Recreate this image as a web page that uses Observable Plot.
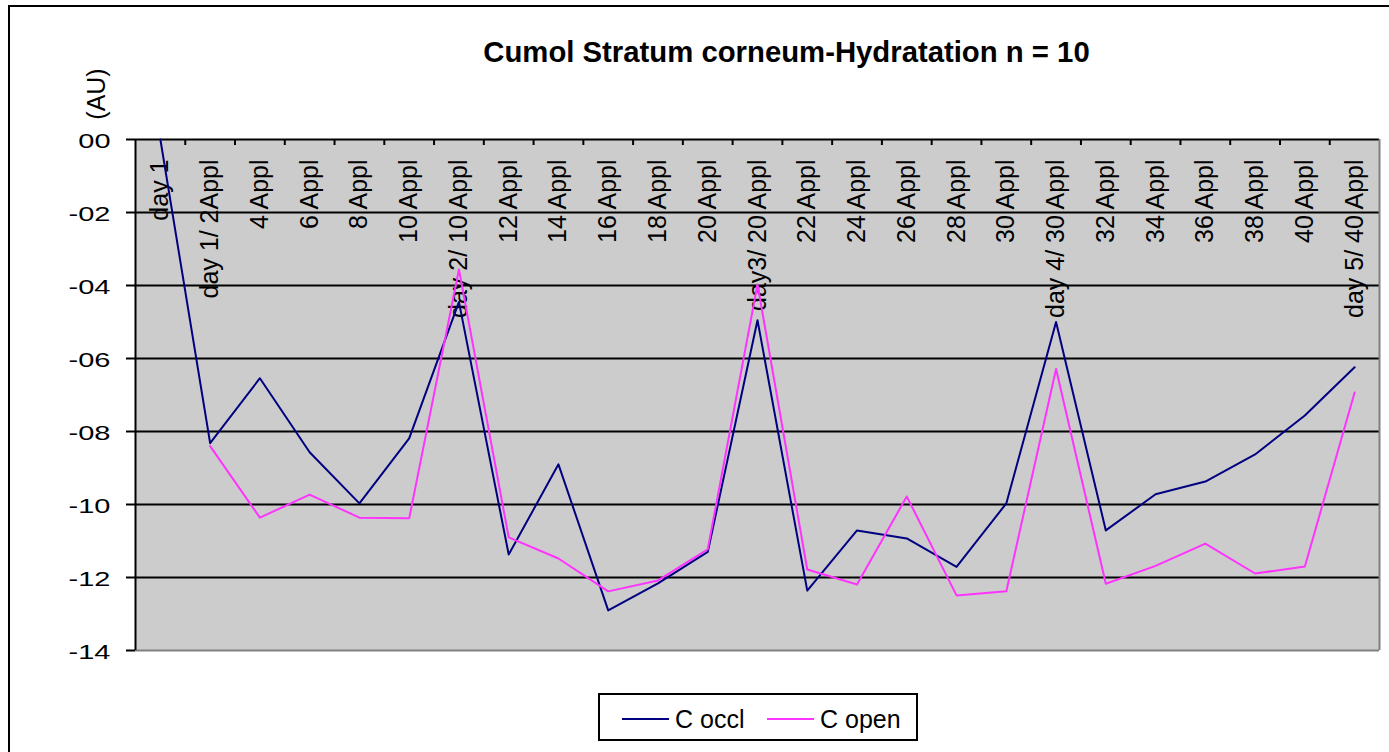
<!DOCTYPE html>
<html>
<head>
<meta charset="utf-8">
<script src="https://cdn.jsdelivr.net/npm/d3@7"></script>
<script src="https://cdn.jsdelivr.net/npm/@observablehq/plot@0.6"></script>
<style>
  html, body { margin: 0; padding: 0; background: #fff; overflow: hidden; }
  #wrap { position: relative; width: 1389px; height: 752px; overflow: hidden; font-family: "Liberation Sans", Arial, sans-serif; color: #000; }
  #chart { position: absolute; left: 0; top: 0; }
  #border { position: absolute; left: 8px; top: 5px; width: 3000px; height: 3000px; border-left: 2px solid #000; border-top: 2px solid #000; pointer-events: none; }
  #title { position: absolute; left: 286px; width: 1001px; top: 37px; text-align: center; font-weight: bold; font-size: 29.3px; line-height: 1; white-space: nowrap; }
  #ylabel { position: absolute; left: 96px; top: 94px; font-size: 25px; line-height: 1; white-space: nowrap; transform: translate(-50%, -50%) rotate(-90deg); }
  #legend { position: absolute; left: 598px; top: 693px; width: 320px; height: 48px; box-sizing: border-box; border: 2px solid #000; background: #fff; }
  #legend .sw { position: absolute; height: 2px; width: 47px; top: 23px; }
  #legend .lb { position: absolute; font-size: 25px; line-height: 1; top: 12px; white-space: nowrap; }
</style>
</head>
<body>
<div id="wrap">
  <div id="chart"></div>
  <div id="title">Cumol Stratum corneum-Hydratation n = 10</div>
  <div id="ylabel">(AU)</div>
  <div id="legend"></div>
  <div id="border"></div>
</div>
<script>
// ---- data ----
const categories = ["day 1", "day 1/ 2Appl", "4 Appl", "6 Appl", "8 Appl", "10 Appl", "day 2/ 10 Appl",
  "12 Appl", "14 Appl", "16 Appl", "18 Appl", "20 Appl", "day3/ 20 Appl", "22 Appl", "24 Appl",
  "26 Appl", "28 Appl", "30 Appl", "day 4/ 30 Appl", "32 Appl", "34 Appl", "36 Appl", "38 Appl",
  "40 Appl", "day 5/ 40 Appl"];
const cOccl = [0, -8.32, -6.54, -8.57, -9.97, -8.19, -4.45, -11.37, -8.9, -12.9, -12.16, -11.3,
  -4.95, -12.36, -10.71, -10.93, -11.71, -9.97, -5.0, -10.71, -9.72, -9.37, -8.63, -7.56, -6.24];
const cOpen = [null, -8.4, -10.36, -9.73, -10.36, -10.38, -3.56, -10.9, -11.48, -12.38, -12.08, -11.23,
  -3.97, -11.78, -12.19, -9.78, -12.49, -12.38, -6.29, -12.17, -11.68, -11.07, -11.89, -11.7, -6.93];
const seriesNames = ["C occl", "C open"];
const seriesColors = ["#000080", "#ff33ff"];
const yTicks = [0, -2, -4, -6, -8, -10, -12, -14];

// ---- layout ----
const W = 1389, H = 752;
const mTop = 139, mBottom = 102, mLeft = 135, mRight = 10;
const yDomain = [d3.min(yTicks), d3.max(yTicks)];
const xDomain = [-0.5, categories.length - 0.5];
const tickUnits = 6 * (yDomain[1] - yDomain[0]) / (H - mTop - mBottom);

const occlData = cOccl.map((v, i) => ({i, v}));
const openData = cOpen.map((v, i) => ({i, v}));
const boundaries = d3.range(1, categories.length).map(i => i - 0.5);
const fmt = d => (d < 0 ? "-" : "") + String(Math.abs(d)).padStart(2, "0");

const plot = Plot.plot({
  width: W, height: H,
  marginTop: mTop, marginBottom: mBottom, marginLeft: mLeft, marginRight: mRight,
  style: {background: "transparent", fontFamily: '"Liberation Sans", Arial, sans-serif', color: "#000", overflow: "visible"},
  x: {domain: xDomain, axis: null},
  y: {domain: yDomain, axis: null},
  marks: [
    Plot.frame({fill: "#cccccc", stroke: "none"}),
    Plot.ruleY(yTicks.filter(d => d !== yDomain[0]), {stroke: "#000", strokeWidth: 2}),
    Plot.ruleY([yDomain[0]], {stroke: "#808080", strokeWidth: 2}),
    Plot.ruleX([xDomain[1]], {stroke: "#808080", strokeWidth: 2}),
    Plot.ruleX([xDomain[0]], {stroke: "#000", strokeWidth: 2}),
    Plot.ruleX(boundaries, {x: d => d, y1: yDomain[1], y2: yDomain[1] - tickUnits, stroke: "#000", strokeWidth: 2}),
    Plot.axisY({ticks: yTicks, tickSize: 9, tickPadding: 16, tickFormat: fmt, fontSize: 20, strokeWidth: 2, label: null}),
    Plot.text(categories, {x: (d, i) => i, frameAnchor: "top", dy: 20, rotate: -90, textAnchor: "end", lineAnchor: "middle", fontSize: 25, fill: "#000"}),
    Plot.line(occlData, {x: "i", y: "v", stroke: seriesColors[0], strokeWidth: 2}),
    Plot.line(openData, {x: "i", y: "v", stroke: seriesColors[1], strokeWidth: 2})
  ]
});
document.getElementById("chart").appendChild(plot);

// widen the y tick labels (original is horizontally stretched) and nudge them down slightly
plot.querySelectorAll('g[aria-label="y-axis tick label"] text').forEach(t => {
  const tr = t.getAttribute("transform") || "";
  t.setAttribute("transform", tr + " translate(0,2) scale(1.45,1)");
});

// legend
const legend = document.getElementById("legend");
const swLeft = [22, 167], lbLeft = [75, 220];
seriesNames.forEach((name, k) => {
  const sw = document.createElement("div");
  sw.className = "sw"; sw.style.left = swLeft[k] + "px"; sw.style.background = seriesColors[k];
  legend.appendChild(sw);
  const lb = document.createElement("div");
  lb.className = "lb"; lb.style.left = lbLeft[k] + "px"; lb.textContent = name;
  legend.appendChild(lb);
});
</script>
</body>
</html>
